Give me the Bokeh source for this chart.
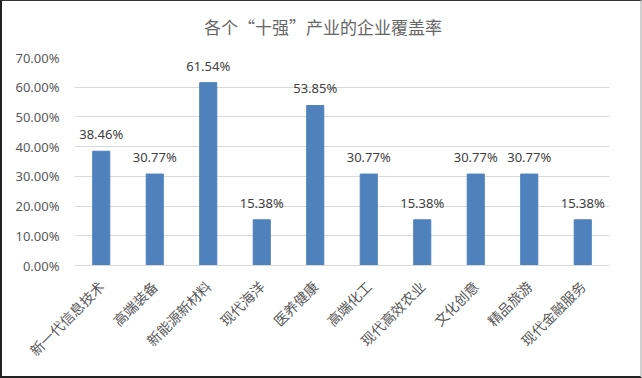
from bokeh.plotting import figure
from bokeh.models import ColumnDataSource, NumeralTickFormatter, Range1d, FactorRange, Div
from bokeh.layouts import column
from bokeh.core.properties import value
from bokeh.embed import file_html
from bokeh.resources import INLINE
from math import pi

categories = ["新一代信息技术", "高端装备", "新能源新材料", "现代海洋", "医养健康",
              "高端化工", "现代高效农业", "文化创意", "精品旅游", "现代金融服务"]
values = [0.3846, 0.3077, 0.6154, 0.1538, 0.5385, 0.3077, 0.1538, 0.3077, 0.3077, 0.1538]
labels = ["38.46%", "30.77%", "61.54%", "15.38%", "53.85%", "30.77%", "15.38%", "30.77%", "30.77%", "15.38%"]
title_text = "各个“十强”产业的企业覆盖率"

src = ColumnDataSource(dict(cat=categories, val=values, lab=labels))

H = 40
title_div = Div(
    text=('<div style="width:642px;text-align:center;font-family:\'Noto Sans CJK SC\';'
          'font-size:17px;line-height:22px;color:#666666;padding-top:15px;">'
          + title_text + '</div>'),
    width=642, height=H, margin=(0, 0, 0, 0),
    styles={"background-color": "white", "border-top": "1px solid #333",
            "border-left": "2px solid #222", "border-right": "2px solid #d0d0d0",
            "box-sizing": "border-box", "overflow": "hidden"})

p = figure(width=642, height=378 - H, x_range=FactorRange(*categories, range_padding=0),
           y_range=Range1d(0, 0.7), output_backend="svg", toolbar_location=None,
           min_border_left=72, min_border_right=35, min_border_top=57 - H, min_border_bottom=113,
           margin=(0, 0, 0, 0))
p.styles = {"border-left": "2px solid #222",
            "border-bottom": "2px solid #222", "border-right": "2px solid #d0d0d0",
            "box-sizing": "border-box"}
p.outline_line_color = None
p.background_fill_color = "white"
p.border_fill_color = "white"

p.vbar(x="cat", top="val", width=0.32, source=src, color="#4F81BD")
p.text(x="cat", y="val", text="lab", source=src, text_align="center", text_baseline="bottom",
       y_offset=-8, text_font_size="13px", text_color="#404040", text_font=value("Noto Sans"))

p.yaxis.formatter = NumeralTickFormatter(format="0.00%")
p.yaxis.ticker = [0, 0.1, 0.2, 0.3, 0.4, 0.5, 0.6, 0.7]
p.yaxis.axis_line_color = None
p.yaxis.major_tick_line_color = None
p.yaxis.minor_tick_line_color = None
p.yaxis.major_label_text_font_size = "13px"
p.yaxis.major_label_text_color = "#595959"
p.yaxis.major_label_text_font = "Noto Sans"
p.yaxis.major_label_standoff = 9

p.xaxis.axis_line_color = "#d9d9d9"
p.xaxis.major_tick_line_color = None
p.xaxis.minor_tick_line_color = None
p.xaxis.major_label_orientation = pi / 4
p.xaxis.major_label_text_font_size = "14px"
p.xaxis.major_label_text_color = "#595959"
p.xaxis.major_label_text_font = "Noto Sans CJK SC"
p.xaxis.major_label_standoff = 12

p.xgrid.grid_line_color = None
p.ygrid.grid_line_color = "#d9d9d9"

layout = column(title_div, p, spacing=0, margin=(0, 0, 0, 0))
open("out.html", "w").write(file_html(layout, INLINE))
